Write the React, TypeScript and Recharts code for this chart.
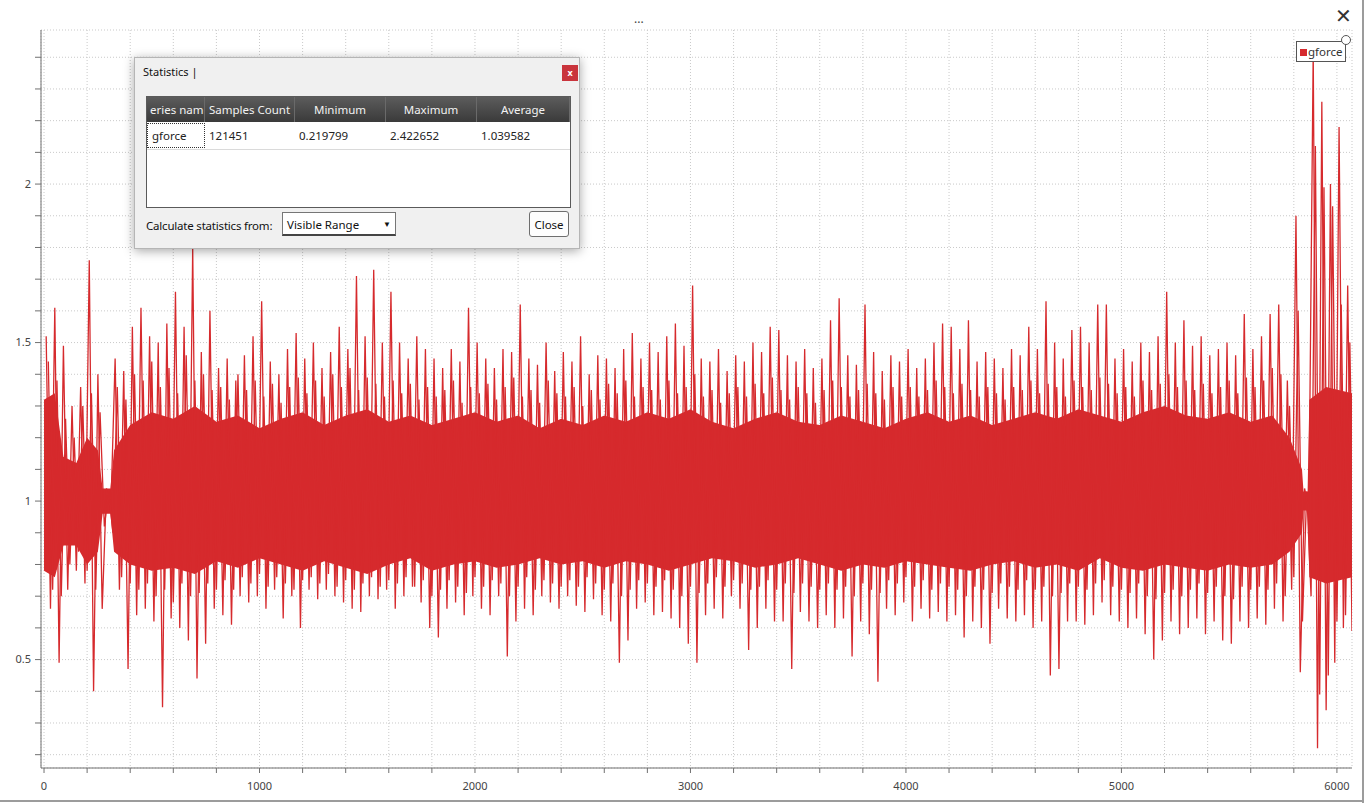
import React from "react"
import { ComposedChart, Line, Area, XAxis, YAxis, CartesianGrid } from "recharts"

const RED = "#d62a2d"
const UI_FONT = '"Noto Sans", "Open Sans", sans-serif'

// per 40-unit bin: highest / lowest sample (main spikes)
const BIN = 40
const SPIKE_HI = [
  1.52, 1.61, 1.49, 1.30, 1.36, 1.76, 1.40, 1.04, 1.45, 1.41,
  1.55, 1.61, 1.52, 1.50, 1.56, 1.66, 1.55, 1.80, 1.47, 1.60,
  1.42, 1.45, 1.38, 1.46, 1.52, 1.63, 1.44, 1.40, 1.48, 1.53,
  1.45, 1.50, 1.42, 1.47, 1.55, 1.48, 1.71, 1.52, 1.73, 1.50,
  1.66, 1.50, 1.45, 1.52, 1.48, 1.45, 1.42, 1.48, 1.44, 1.61,
  1.50, 1.45, 1.42, 1.48, 1.47, 1.62, 1.45, 1.43, 1.50, 1.41,
  1.47, 1.44, 1.52, 1.40, 1.46, 1.45, 1.42, 1.48, 1.53, 1.45,
  1.50, 1.47, 1.52, 1.56, 1.49, 1.68, 1.45, 1.44, 1.48, 1.41,
  1.46, 1.44, 1.50, 1.47, 1.55, 1.54, 1.46, 1.44, 1.48, 1.42,
  1.45, 1.57, 1.64, 1.46, 1.43, 1.62, 1.47, 1.41, 1.46, 1.44,
  1.48, 1.42, 1.45, 1.50, 1.56, 1.55, 1.48, 1.57, 1.44, 1.47,
  1.45, 1.42, 1.48, 1.46, 1.55, 1.48, 1.63, 1.50, 1.45, 1.54,
  1.55, 1.50, 1.62, 1.62, 1.45, 1.48, 1.44, 1.50, 1.47, 1.52,
  1.66, 1.50, 1.57, 1.49, 1.52, 1.46, 1.48, 1.50, 1.46, 1.59,
  1.48, 1.52, 1.59, 1.62, 1.38, 1.90, 1.04, 2.42, 2.26, 2.00,
  2.18, 1.68,
]
const SPIKE_LO = [
  0.66, 0.49, 0.72, 0.78, 0.74, 0.40, 0.66, 0.97, 0.72, 0.47,
  0.64, 0.66, 0.62, 0.35, 0.63, 0.60, 0.56, 0.44, 0.55, 0.66,
  0.64, 0.61, 0.70, 0.68, 0.70, 0.66, 0.72, 0.63, 0.70, 0.60,
  0.72, 0.69, 0.72, 0.70, 0.68, 0.66, 0.65, 0.70, 0.69, 0.72,
  0.66, 0.70, 0.73, 0.68, 0.60, 0.57, 0.66, 0.68, 0.64, 0.70,
  0.66, 0.64, 0.70, 0.51, 0.62, 0.66, 0.64, 0.70, 0.68, 0.66,
  0.70, 0.67, 0.65, 0.69, 0.64, 0.62, 0.49, 0.56, 0.66, 0.68,
  0.64, 0.65, 0.63, 0.60, 0.55, 0.49, 0.64, 0.66, 0.63, 0.70,
  0.66, 0.53, 0.60, 0.66, 0.62, 0.62, 0.47, 0.65, 0.62, 0.60,
  0.64, 0.60, 0.63, 0.51, 0.62, 0.58, 0.43, 0.66, 0.64, 0.68,
  0.62, 0.66, 0.63, 0.65, 0.62, 0.64, 0.57, 0.62, 0.60, 0.55,
  0.66, 0.63, 0.62, 0.64, 0.60, 0.62, 0.45, 0.47, 0.62, 0.62,
  0.61, 0.64, 0.68, 0.64, 0.62, 0.60, 0.63, 0.58, 0.50, 0.56,
  0.62, 0.58, 0.60, 0.63, 0.58, 0.62, 0.56, 0.55, 0.62, 0.60,
  0.63, 0.61, 0.66, 0.62, 0.72, 0.46, 0.97, 0.22, 0.34, 0.49,
  0.60, 0.59,
]

// per bin: second-highest / second-lowest peaks (the dense fringe)
const FRINGE_HI = [
  1.44, 1.38, 1.26, 1.20, 1.30, 1.34, 1.28, 1.03, 1.36, 1.32,
  1.40, 1.38, 1.44, 1.36, 1.42, 1.34, 1.46, 1.38, 1.40, 1.35,
  1.36, 1.32, 1.40, 1.35, 1.38, 1.33, 1.37, 1.31, 1.36, 1.39,
  1.34, 1.38, 1.33, 1.40, 1.36, 1.42, 1.35, 1.39, 1.37, 1.33,
  1.38, 1.34, 1.37, 1.32, 1.36, 1.33, 1.35, 1.38, 1.31, 1.36,
  1.34, 1.37, 1.32, 1.36, 1.39, 1.33, 1.35, 1.31, 1.38, 1.34,
  1.33, 1.36, 1.30, 1.35, 1.32, 1.37, 1.34, 1.38, 1.33, 1.36,
  1.35, 1.32, 1.38, 1.34, 1.36, 1.40, 1.33, 1.35, 1.31, 1.34,
  1.36, 1.33, 1.37, 1.34, 1.39, 1.35, 1.32, 1.36, 1.34, 1.31,
  1.35, 1.38, 1.36, 1.33, 1.35, 1.37, 1.34, 1.32, 1.36, 1.33,
  1.36, 1.33, 1.35, 1.38, 1.36, 1.34, 1.37, 1.35, 1.33, 1.36,
  1.34, 1.32, 1.36, 1.35, 1.38, 1.34, 1.37, 1.36, 1.33, 1.38,
  1.36, 1.35, 1.39, 1.37, 1.34, 1.36, 1.33, 1.38, 1.35, 1.37,
  1.40, 1.36, 1.38, 1.35, 1.37, 1.34, 1.36, 1.38, 1.34, 1.39,
  1.36, 1.38, 1.42, 1.40, 1.30, 1.60, 1.03, 2.12, 1.99, 1.93,
  1.62, 1.50,
]
const FRINGE_LO = [
  0.72, 0.70, 0.80, 0.84, 0.78, 0.72, 0.92, 0.90, 0.76, 0.74,
  0.72, 0.74, 0.70, 0.72, 0.68, 0.74, 0.70, 0.71, 0.74, 0.72,
  0.75, 0.72, 0.76, 0.74, 0.77, 0.73, 0.76, 0.74, 0.72, 0.75,
  0.76, 0.74, 0.77, 0.73, 0.75, 0.72, 0.74, 0.76, 0.73, 0.75,
  0.74, 0.76, 0.73, 0.75, 0.70, 0.72, 0.75, 0.73, 0.71, 0.76,
  0.73, 0.75, 0.74, 0.70, 0.73, 0.76, 0.72, 0.75, 0.74, 0.73,
  0.75, 0.73, 0.76, 0.74, 0.72, 0.74, 0.70, 0.72, 0.75, 0.74,
  0.73, 0.75, 0.72, 0.70, 0.73, 0.71, 0.74, 0.76, 0.73, 0.75,
  0.74, 0.72, 0.73, 0.75, 0.72, 0.74, 0.71, 0.74, 0.73, 0.72,
  0.74, 0.72, 0.73, 0.70, 0.74, 0.72, 0.71, 0.75, 0.74, 0.76,
  0.73, 0.75, 0.72, 0.74, 0.73, 0.72, 0.70, 0.73, 0.72, 0.71,
  0.74, 0.73, 0.72, 0.75, 0.72, 0.73, 0.70, 0.71, 0.74, 0.73,
  0.72, 0.74, 0.75, 0.73, 0.72, 0.71, 0.74, 0.70, 0.69, 0.71,
  0.72, 0.70, 0.72, 0.74, 0.71, 0.73, 0.70, 0.69, 0.73, 0.72,
  0.73, 0.72, 0.74, 0.70, 0.76, 0.62, 0.70, 0.39, 0.45, 0.62,
  0.64, 0.66,
]

// dense core of the signal (solid red), ragged edge read every ~100 units
const CORE_X = [
  0, 50, 90, 150, 200, 250, 272, 308, 325,
  400, 500, 600, 700, 800, 900, 1000, 1100, 1200, 1300, 1400, 1500, 1600,
  1700, 1800, 1900, 2000, 2100, 2200, 2300, 2400, 2500, 2600, 2700, 2800,
  2900, 3000, 3100, 3200, 3300, 3400, 3500, 3600, 3700, 3800, 3900, 4000,
  4100, 4200, 4300, 4400, 4500, 4600, 4700, 4800, 4900, 5000, 5100, 5200,
  5300, 5400, 5500, 5600, 5700,
  5780, 5838, 5845, 5864, 5872, 5950, 6070,
]
const CORE_LO = [
  0.78, 0.76, 0.86, 0.86, 0.80, 0.84, 0.96, 0.96, 0.84,
  0.80, 0.78, 0.79, 0.77, 0.81, 0.79, 0.82, 0.80, 0.78, 0.81, 0.79, 0.77, 0.80,
  0.82, 0.78, 0.80, 0.81, 0.79, 0.80, 0.82, 0.80, 0.81, 0.79, 0.81, 0.80,
  0.78, 0.80, 0.82, 0.81, 0.79, 0.80, 0.82, 0.80, 0.78, 0.80, 0.79, 0.81,
  0.80, 0.79, 0.78, 0.80, 0.81, 0.79, 0.80, 0.78, 0.82, 0.79, 0.78, 0.80,
  0.79, 0.78, 0.80, 0.79, 0.80,
  0.84, 0.90, 0.97, 0.97, 0.76, 0.74, 0.76,
]
const CORE_HI = [
  1.32, 1.34, 1.14, 1.12, 1.20, 1.16, 1.04, 1.04, 1.16,
  1.24, 1.28, 1.26, 1.30, 1.25, 1.27, 1.23, 1.26, 1.28, 1.24, 1.27, 1.29, 1.25,
  1.27, 1.24, 1.26, 1.28, 1.25, 1.27, 1.23, 1.26, 1.24, 1.27, 1.25, 1.28,
  1.26, 1.29, 1.25, 1.23, 1.26, 1.28, 1.25, 1.24, 1.27, 1.25, 1.23, 1.26,
  1.28, 1.25, 1.27, 1.24, 1.26, 1.28, 1.26, 1.29, 1.27, 1.25, 1.28, 1.30,
  1.27, 1.26, 1.28, 1.25, 1.27,
  1.20, 1.10, 1.03, 1.03, 1.32, 1.36, 1.34,
]

const X_TICKS = [
  0, 200, 400, 600, 800, 1000, 1200, 1400, 1600, 1800, 2000, 2200, 2400, 2600,
  2800, 3000, 3200, 3400, 3600, 3800, 4000, 4200, 4400, 4600, 4800, 5000,
  5200, 5400, 5600, 5800, 6000,
]
const X_LABELS = [0, 1000, 2000, 3000, 4000, 5000, 6000]
const Y_TICKS = [
  0.2, 0.3, 0.4, 0.5, 0.6, 0.7, 0.8, 0.9, 1, 1.1, 1.2, 1.3, 1.4, 1.5, 1.6,
  1.7, 1.8, 1.9, 2, 2.1, 2.2, 2.3, 2.4,
]
const Y_LABELS = [0.5, 1, 1.5, 2]

const STAT_COLUMNS = ["eries nam", "Samples Count", "Minimum", "Maximum", "Average"]
const STAT_ROW = ["gforce", "121451", "0.219799", "2.422652", "1.039582"]
const COL_WIDTHS = [58, 90, 91, 91, 93]

const spikeData = SPIKE_HI.flatMap((h, i) => [
  { x: i * BIN + 10, v: h },
  { x: i * BIN + 30, v: SPIKE_LO[i] },
])
const fringeData = FRINGE_HI.flatMap((h, i) => [
  { x: i * BIN + 20, v: h },
  { x: i * BIN + 40, v: FRINGE_LO[i] },
])
const coreData = CORE_X.map((x, i) => ({ x, band: [CORE_LO[i], CORE_HI[i]] }))

function StatisticsDialog() {
  return (
    <div
      style={{
        position: "absolute",
        left: 134,
        top: 57,
        width: 444,
        height: 190,
        background: "#f0f0f0",
        border: "1px solid #b5b5b5",
        boxShadow: "0 2px 10px rgba(0,0,0,0.35)",
        fontFamily: UI_FONT,
        fontSize: 11.5,
        color: "#111",
      }}
    >
      <div style={{ position: "absolute", left: 8, top: 6, fontSize: 11 }}>Statistics |</div>
      <div
        style={{
          position: "absolute",
          left: 427,
          top: 7,
          width: 16,
          height: 16,
          background: "#c9343c",
          color: "#fff",
          fontSize: 9,
          fontWeight: "bold",
          textAlign: "center",
          lineHeight: "15px",
        }}
      >
        x
      </div>
      <div
        style={{
          position: "absolute",
          left: 11,
          top: 38,
          width: 423,
          height: 110,
          background: "#fff",
          border: "1px solid #5a5a5a",
          overflow: "hidden",
        }}
      >
        <div style={{ display: "flex", height: 25, background: "linear-gradient(#5c5c5c, #3a3a3a)" }}>
          {STAT_COLUMNS.map((c, i) => (
            <div
              key={c}
              style={{
                width: COL_WIDTHS[i],
                color: "#f2f2f2",
                lineHeight: "25px",
                textAlign: i === 0 ? "left" : "center",
                paddingLeft: i === 0 ? 3 : 0,
                boxSizing: "border-box",
                borderRight: "1px solid #6a6a6a",
                whiteSpace: "nowrap",
                overflow: "hidden",
              }}
            >
              {c}
            </div>
          ))}
        </div>
        <div style={{ display: "flex", height: 27, borderBottom: "1px solid #dadada" }}>
          {STAT_ROW.map((c, i) => (
            <div
              key={i}
              style={{
                width: COL_WIDTHS[i],
                lineHeight: i === 0 ? "23px" : "27px",
                paddingLeft: 4,
                boxSizing: "border-box",
                borderRight: i === 0 ? "none" : "1px solid #e6e6e6",
                border: i === 0 ? "1px dotted #333" : undefined,
                margin: i === 0 ? "1px 0" : 0,
                color: "#222",
              }}
            >
              {c}
            </div>
          ))}
        </div>
      </div>
      <div style={{ position: "absolute", left: 11, top: 160, letterSpacing: -0.2 }}>Calculate statistics from:</div>
      <div
        style={{
          position: "absolute",
          left: 147,
          top: 154,
          width: 114,
          height: 24,
          background: "#fff",
          border: "1px solid #767676",
          borderBottom: "2px solid #444",
          lineHeight: "23px",
          paddingLeft: 4,
          boxSizing: "border-box",
        }}
      >
        Visible Range
        <span style={{ position: "absolute", right: 4, top: -1, fontSize: 8 }}>▼</span>
      </div>
      <div
        style={{
          position: "absolute",
          left: 394,
          top: 153,
          width: 40,
          height: 26,
          background: "#fdfdfd",
          border: "1px solid #6e6e6e",
          borderRadius: 3,
          textAlign: "center",
          lineHeight: "25px",
          boxSizing: "border-box",
        }}
      >
        Close
      </div>
    </div>
  )
}

export default function App() {
  return (
    <div style={{ position: "fixed", left: 0, top: 0, width: 1370, height: 803, background: "#fff", overflow: "hidden" }}>
      <ComposedChart width={1370} height={803} margin={{ top: 30, right: 18, bottom: 5, left: 0 }}>
        <CartesianGrid stroke="#c9c9c9" strokeDasharray="1 2" />
        <XAxis
          type="number"
          dataKey="x"
          domain={[-14, 6070]}
          ticks={X_TICKS}
          interval={0}
          height={30}
          tickSize={5}
          tickMargin={9}
          stroke="#707070"
          tick={{ fill: "#444", fontSize: 11, fontFamily: UI_FONT }}
          tickFormatter={(v) => (X_LABELS.includes(v) ? String(v) : "")}
          allowDataOverflow
        />
        <YAxis
          type="number"
          domain={[0.158, 2.486]}
          ticks={Y_TICKS}
          interval={0}
          width={41}
          tickSize={6}
          tickMargin={4}
          stroke="#707070"
          tick={{ fill: "#444", fontSize: 11, fontFamily: UI_FONT }}
          tickFormatter={(v) => (Y_LABELS.includes(v) ? String(v) : "")}
          allowDataOverflow
        />
        <Area
          data={coreData}
          dataKey="band"
          type="linear"
          stroke="none"
          fill={RED}
          fillOpacity={1}
          dot={false}
          activeDot={false}
          isAnimationActive={false}
        />
        <Line
          data={fringeData}
          dataKey="v"
          type="linear"
          stroke={RED}
          strokeWidth={1.3}
          dot={false}
          activeDot={false}
          isAnimationActive={false}
        />
        <Line
          data={spikeData}
          dataKey="v"
          type="linear"
          stroke={RED}
          strokeWidth={1.3}
          dot={false}
          activeDot={false}
          isAnimationActive={false}
        />
      </ComposedChart>

      {/* window frame */}
      <div style={{ position: "absolute", left: 1362, top: 0, width: 2, height: 803, background: "#9c9c9c" }} />
      <div style={{ position: "absolute", left: 0, top: 800, width: 1364, height: 2, background: "#9c9c9c" }} />
      <div style={{ position: "absolute", left: 634, top: 10, fontSize: 12, color: "#444", fontFamily: UI_FONT }}>...</div>
      <div style={{ position: "absolute", left: 1335, top: 4, fontSize: 20, color: "#333", fontFamily: "DejaVu Sans" }}>✕</div>

      {/* legend */}
      <div
        style={{
          position: "absolute",
          left: 1296,
          top: 41,
          width: 50,
          height: 21,
          background: "#fff",
          border: "1px solid #555",
          boxSizing: "border-box",
          fontFamily: UI_FONT,
          fontSize: 11.5,
          color: "#333",
          lineHeight: "19px",
        }}
      >
        <span style={{ display: "inline-block", width: 7, height: 7, background: RED, marginLeft: 3, marginRight: 1 }} />
        gforce
      </div>
      <div
        style={{
          position: "absolute",
          left: 1341,
          top: 35,
          width: 8,
          height: 8,
          borderRadius: "50%",
          background: "#fff",
          border: "1px solid #555",
        }}
      />

      <StatisticsDialog />
    </div>
  )
}
